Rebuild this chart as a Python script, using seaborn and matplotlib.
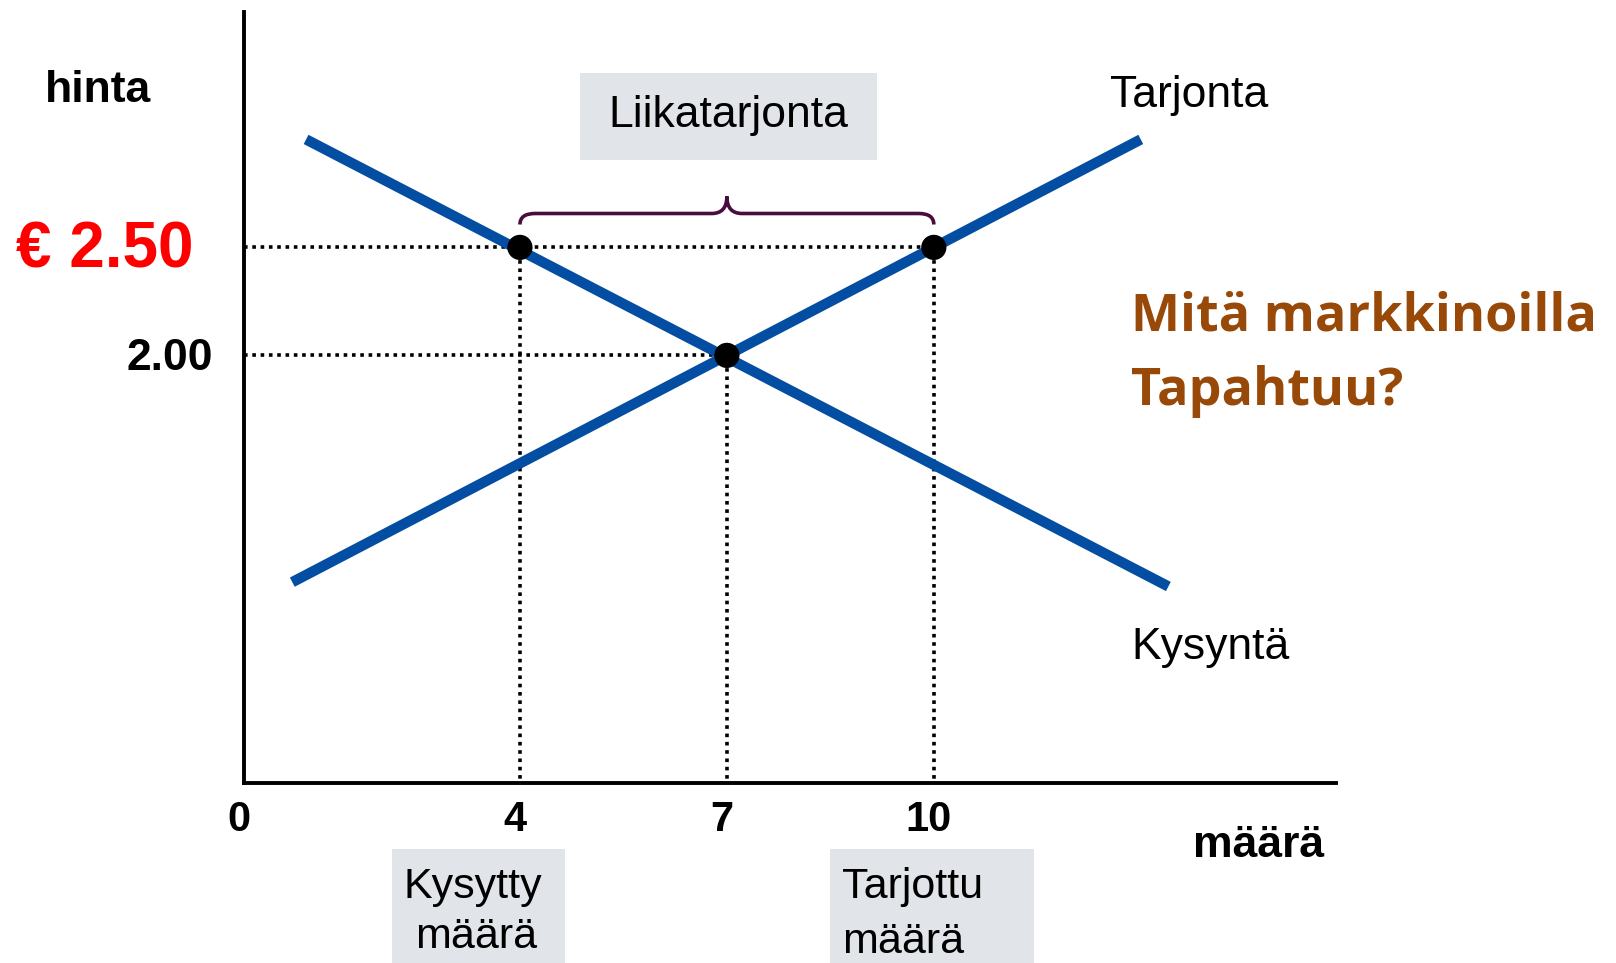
import numpy as np
import pandas as pd
import matplotlib
matplotlib.use('Agg')
import matplotlib.pyplot as plt
import seaborn as sns
from matplotlib import font_manager
from matplotlib.patches import Rectangle, PathPatch
from matplotlib.path import Path
from matplotlib.transforms import ScaledTranslation

# data
supply_q = [0.7, 13.0]
supply_p = [0.95, 3.0]
demand_q = [0.9, 13.4]
demand_p = [3.0, 0.93]
point_q = [4, 10, 7]
point_p = [2.5, 2.5, 2.0]
q_ticks = [0, 4, 7, 10]
q_tick_labels = ['0', '4', '7', '10']
price_high = 2.5
price_eq = 2.0
q_demanded = 4
q_supplied = 10
q_eq = 7

BLUE = '#034ea2'
BOX = '#e1e4e9'
BROWN = '#984807'
BRACE = '#4a0c3c'


def has_font(name):
    try:
        font_manager.findfont(name, fallback_to_default=False)
        return True
    except ValueError:
        return False


if has_font('Liberation Sans Narrow'):
    NARROW, narrow_size, tick_size = 'Liberation Sans Narrow', 34, 33
else:
    NARROW, narrow_size, tick_size = 'Liberation Sans', 31, 30

sns.set_style('white')
plt.rcParams['font.family'] = ['Liberation Sans', 'DejaVu Sans']
plt.rcParams['text.color'] = 'black'
plt.rcParams['xtick.color'] = 'black'
plt.rcParams['xtick.labelcolor'] = 'black'

W, H = 1616, 963
fig = plt.figure(figsize=(W / 100, H / 100), dpi=100)


def fx(x):
    return x / W


def fy(y):
    return 1 - y / H


ax = fig.add_axes([fx(244), fy(783), fx(1336) - fx(244), fy(12) - fy(783)])

lines = pd.concat([
    pd.DataFrame({'q': supply_q, 'p': supply_p, 'curve': 'Tarjonta'}),
    pd.DataFrame({'q': demand_q, 'p': demand_p, 'curve': 'Kysyntä'}),
])
sns.lineplot(data=lines, x='q', y='p', units='curve', estimator=None, color=BLUE,
             linewidth=7.5, ax=ax, legend=False, solid_capstyle='butt', sort=False)

# dotted guide lines
dot = dict(color='black', linestyle=(0, (1, 1.3)), linewidth=2.6, zorder=1)
ax.plot([0, q_supplied], [price_high, price_high], **dot)
ax.plot([0, q_eq], [price_eq, price_eq], **dot)
for q, p in zip(point_q, point_p):
    ax.plot([q, q], [0, p], **dot)

sns.scatterplot(x=point_q, y=point_p, color='black', s=330, edgecolor='none', zorder=5, ax=ax)

ax.set_xlim(0, 15.83)
ax.set_ylim(0.02, 3.59)
ax.set_xticks(q_ticks, q_tick_labels, fontsize=tick_size, fontweight='bold', family=NARROW)
ax.set_yticks([])
ax.tick_params(axis='x', length=0, pad=12)
shift = ScaledTranslation(-5 / 100, 0, fig.dpi_scale_trans)
for lab in ax.get_xticklabels():
    lab.set_transform(lab.get_transform() + shift)
ax.set_xlabel('')
ax.set_ylabel('')
for s in ['top', 'right']:
    ax.spines[s].set_visible(False)
for s in ['left', 'bottom']:
    ax.spines[s].set_linewidth(2.8)
    ax.spines[s].set_color('black')

# curly brace over the excess supply
yb, ym, yt, r = 2.606, 2.657, 2.736, 0.22
xc = (q_demanded + q_supplied) / 2
verts = [(q_demanded, yb), (q_demanded, ym), (q_demanded + r, ym),
         (xc - r, ym), (xc, ym), (xc, yt),
         (xc, ym), (xc + r, ym),
         (q_supplied - r, ym), (q_supplied, ym), (q_supplied, yb)]
codes = [Path.MOVETO, Path.CURVE3, Path.CURVE3,
         Path.LINETO, Path.CURVE3, Path.CURVE3,
         Path.CURVE3, Path.CURVE3,
         Path.LINETO, Path.CURVE3, Path.CURVE3]
ax.add_patch(PathPatch(Path(verts, codes), facecolor='none', edgecolor=BRACE, linewidth=2.6,
                       clip_on=False))

# grey label boxes
for (x0, y0, x1, y1) in [(580, 73, 877, 160), (392, 849, 565, 963), (830, 849, 1034, 963)]:
    fig.patches.append(Rectangle((fx(x0), fy(y1)), fx(x1) - fx(x0), fy(y0) - fy(y1),
                                 transform=fig.transFigure, facecolor=BOX, edgecolor='none', zorder=0))

fig.text(fx(728), fy(116), 'Liikatarjonta', fontsize=32, ha='center', va='center')
fig.text(fx(473), fy(887), 'Kysytty', fontsize=narrow_size, family=NARROW, ha='center', va='center')
fig.text(fx(476), fy(937), 'määrä', fontsize=narrow_size, family=NARROW, ha='center', va='center')
fig.text(fx(842), fy(887), 'Tarjottu', fontsize=narrow_size, family=NARROW, ha='left', va='center')
fig.text(fx(842), fy(942), 'määrä', fontsize=narrow_size, family=NARROW, ha='left', va='center')

fig.text(fx(98), fy(90), 'hinta', fontsize=32, fontweight='bold', ha='center', va='center')
fig.text(fx(193), fy(250), '€ 2.50', fontsize=46, fontweight='bold', color='#ff0000',
         ha='right', va='center')
fig.text(fx(213), fy(358), '2.00', fontsize=32, fontweight='bold', ha='right', va='center')
fig.text(fx(1259), fy(845), 'määrä', fontsize=32, fontweight='bold', ha='center', va='center')

fig.text(fx(1110), fy(95), 'Tarjonta', fontsize=32, ha='left', va='center')
fig.text(fx(1131), fy(647), 'Kysyntä', fontsize=32, ha='left', va='center')

fig.text(fx(1131), fy(317), 'Mitä markkinoilla', fontsize=37.5, fontweight='bold', color=BROWN,
         family=['Open Sans', 'DejaVu Sans'], ha='left', va='center')
fig.text(fx(1131), fy(392), 'Tapahtuu?', fontsize=37.5, fontweight='bold', color=BROWN,
         family=['Open Sans', 'DejaVu Sans'], ha='left', va='center')

fig.savefig('out.png', dpi=100)
